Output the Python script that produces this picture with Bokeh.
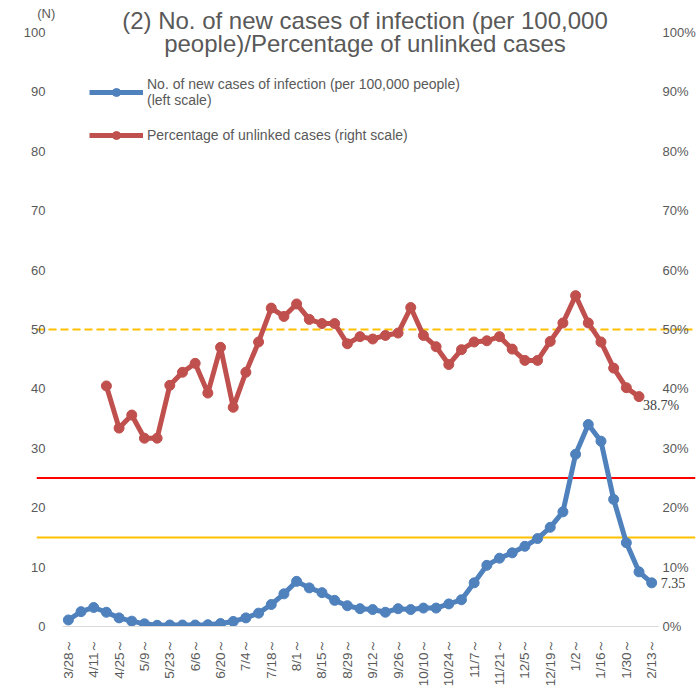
import math
from bokeh.plotting import figure
from bokeh.models import (ColumnDataSource, LinearAxis, Range1d, Span, Label, LabelSet,
                          FixedTicker, Legend, LegendItem)
from bokeh.embed import file_html
from bokeh.resources import INLINE

# ---------------- data ----------------
weeks = ["3/28", "4/4", "4/11", "4/18", "4/25", "5/2", "5/9", "5/16", "5/23", "5/30",
         "6/6", "6/13", "6/20", "6/27", "7/4", "7/11", "7/18", "7/25", "8/1", "8/8",
         "8/15", "8/22", "8/29", "9/5", "9/12", "9/19", "9/26", "10/3", "10/10", "10/17",
         "10/24", "10/31", "11/7", "11/14", "11/21", "11/28", "12/5", "12/12", "12/19", "12/26",
         "1/2", "1/9", "1/16", "1/23", "1/30", "2/6", "2/13"]

tick_labels = ["3/28～", "4/11～", "4/25～", "5/9～", "5/23～", "6/6～", "6/20～", "7/4～",
               "7/18～", "8/1～", "8/15～", "8/29～", "9/12～", "9/26～", "10/10～", "10/24～",
               "11/7～", "11/21～", "12/5～", "12/19～", "1/2～", "1/16～", "1/30～", "2/13～"]

new_cases = [1.1, 2.5, 3.2, 2.4, 1.45, 0.9, 0.45, 0.2, 0.25, 0.25,
             0.25, 0.3, 0.5, 0.85, 1.45, 2.25, 3.7, 5.5, 7.6, 6.5,
             5.7, 4.4, 3.5, 3.0, 2.85, 2.4, 3.0, 2.85, 3.1, 3.1,
             3.8, 4.5, 7.35, 10.3, 11.5, 12.4, 13.5, 14.8, 16.7, 19.3,
             29.0, 34.0, 31.2, 21.4, 14.1, 9.2, 7.35]

unlinked_pct = [None, None, None, 40.5, 33.4, 35.6, 31.7, 31.7, 40.6, 42.8,
                44.3, 39.3, 47.0, 36.9, 42.8, 47.9, 53.6, 52.2, 54.3, 51.7,
                51.0, 51.0, 47.6, 48.8, 48.4, 49.0, 49.4, 53.7, 49.0, 47.1,
                44.1, 46.6, 47.9, 48.1, 48.8, 46.7, 44.8, 44.8, 48.0, 51.1,
                55.7, 51.1, 47.9, 43.5, 40.2, 38.7, None]

left_ticks = [0, 10, 20, 30, 40, 50, 60, 70, 80, 90, 100]
right_ticks = [0, 10, 20, 30, 40, 50, 60, 70, 80, 90, 100]
right_tick_labels = ["0%", "10%", "20%", "30%", "40%", "50%", "60%", "70%", "80%", "90%", "100%"]

level_red = 25
level_orange = 15
level_pct_dashed = 50

title_line1 = "(2) No. of new cases of infection (per 100,000"
title_line2 = "people)/Percentage of unlinked cases"
legend_blue = "No. of new cases of infection (per 100,000 people)\n(left scale)"
legend_red = "Percentage of unlinked cases (right scale)"

# ---------------- styles ----------------
FONT = "Liberation Sans"
GRAY = "#595959"
BLUE = "#4F81BD"
RED = "#C0504D"

xs = list(range(len(weeks)))
src = ColumnDataSource(dict(
    x=xs,
    cases=new_cases,
    pct=[float("nan") if v is None else v for v in unlinked_pct],
))

# the frame reaches the top and right edges of the canvas so that titles and
# end labels (drawn in data space) are not clipped
p = figure(width=698, height=692, output_backend="svg", toolbar_location=None,
           x_range=Range1d(-2.512, 49.454), y_range=Range1d(0, 105.387),
           min_border_left=36, min_border_top=0, min_border_bottom=66, min_border_right=0)
p.outline_line_color = None
p.xgrid.visible = False
p.ygrid.visible = False
p.extra_y_ranges = {"pct": Range1d(0, 105.387)}

# reference levels
p.add_layout(Span(location=level_red, dimension="width", line_color="#FF0000", line_width=2, level="underlay"))
p.add_layout(Span(location=level_orange, dimension="width", line_color="#FFC000", line_width=2, level="underlay"))
p.add_layout(Span(location=level_pct_dashed, dimension="width", y_range_name="pct", line_color="#FFC000",
                  line_width=2, line_dash="8 4", level="underlay"))

# series
l_blue = p.line("x", "cases", source=src, line_color=BLUE, line_width=5, line_join="round")
s_blue = p.scatter("x", "cases", source=src, size=10, fill_color=BLUE, line_color=BLUE)
l_red = p.line("x", "pct", source=src, y_range_name="pct", line_color=RED, line_width=5, line_join="round")
s_red = p.scatter("x", "pct", source=src, y_range_name="pct", size=10, fill_color=RED, line_color=RED)

# axes
xa = p.xaxis[0]
tick_pos = list(range(0, len(weeks), 2))
xa.ticker = FixedTicker(ticks=tick_pos)
xa.bounds = (-0.5, len(weeks) - 0.5)
xa.major_label_overrides = {t: lab for t, lab in zip(tick_pos, tick_labels)}
xa.major_label_orientation = math.pi / 2
xa.major_tick_in = 0
xa.major_tick_out = 0
xa.minor_tick_in = 0
xa.minor_tick_out = 0
xa.axis_line_color = "#D9D9D9"
xa.axis_line_width = 1
xa.major_label_standoff = 12
xa.major_label_text_font = FONT
xa.major_label_text_font_size = "13.5px"
xa.major_label_text_color = GRAY

ya = p.yaxis[0]
ya.ticker = FixedTicker(ticks=left_ticks)
ya.axis_line_color = None
ya.major_tick_in = 0
ya.major_tick_out = 0
ya.minor_tick_in = 0
ya.minor_tick_out = 0
ya.major_label_standoff = -9
ya.major_label_text_font = FONT
ya.major_label_text_font_size = "13px"
ya.major_label_text_color = GRAY

ra = LinearAxis(y_range_name="pct", ticker=FixedTicker(ticks=right_ticks))
ra.major_label_overrides = {t: lab for t, lab in zip(right_ticks, right_tick_labels)}
ra.axis_line_color = None
ra.major_tick_in = 0
ra.major_tick_out = 0
ra.minor_tick_in = 0
ra.minor_tick_out = 0
ra.major_label_standoff = -33
ra.major_label_text_font = FONT
ra.major_label_text_font_size = "13px"
ra.major_label_text_color = GRAY
p.add_layout(ra, "right")

# legend
legend = Legend(items=[LegendItem(label=legend_blue, renderers=[l_blue, s_blue]),
                       LegendItem(label=legend_red, renderers=[l_red, s_red])],
                location=(53, 481), margin=0, padding=0, spacing=17,
                glyph_width=54, glyph_height=20, label_standoff=4,
                label_text_font=FONT, label_text_font_size="14px", label_text_color=GRAY,
                label_text_line_height=1.43,
                border_line_color=None, background_fill_alpha=0)
p.add_layout(legend)

# title and axis title
for txt, yv in ((title_line1, 102.0), (title_line2, 98.15)):
    p.add_layout(Label(x=23.39, y=yv, text=txt, text_align="center", text_baseline="alphabetic",
                       text_font=FONT, text_font_size="24px", text_color=GRAY))
p.add_layout(Label(x=-2.45, y=103.2, text="(N)", text_align="left", text_baseline="middle",
                   text_font=FONT, text_font_size="13px", text_color=GRAY))

# data labels on last points
last_blue = len(new_cases) - 1
last_red = max(i for i, v in enumerate(unlinked_pct) if v is not None)
p.add_layout(LabelSet(source=ColumnDataSource(dict(x=[last_blue], y=[new_cases[last_blue]],
                                                   t=[f"{new_cases[last_blue]}"])),
                      x="x", y="y", text="t", x_offset=9, text_baseline="middle",
                      text_font=FONT, text_font_size="14px", text_color="#404040"))
p.add_layout(LabelSet(source=ColumnDataSource(dict(x=[last_red], y=[unlinked_pct[last_red]],
                                                   t=[f"{unlinked_pct[last_red]}%"])),
                      x="x", y="y", text="t", x_offset=4, y_offset=-9, text_baseline="middle",
                      y_range_name="pct",
                      text_font=FONT, text_font_size="14px", text_color="#404040"))

open("out.html", "w").write(file_html(p, INLINE))
